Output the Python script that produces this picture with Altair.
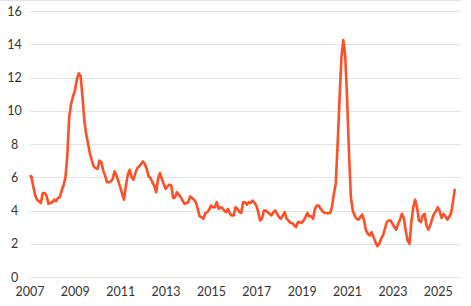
import altair as alt
import pandas as pd

# Monthly values (Jan 2007 - Oct 2025)
v2007 = [6.05, 6.05, 5.45, 4.9, 4.65, 4.55, 4.45, 5.05, 5.05, 4.9, 4.4, 4.45]
v2008 = [4.5, 4.65, 4.55, 4.75, 4.8, 5.2, 5.5, 6.0, 7.3, 9.6, 10.4, 10.85]
v2009 = [11.2, 11.85, 12.25, 12.1, 10.9, 9.4, 8.6, 8.0, 7.4, 7.0, 6.65, 6.55]
v2010 = [6.5, 7.0, 6.9, 6.4, 6.1, 5.7, 5.7, 5.75, 5.9, 6.35, 6.1, 5.75]
v2011 = [5.4, 5.0, 4.65, 5.5, 6.15, 6.45, 6.0, 5.85, 6.25, 6.55, 6.65, 6.8]
v2012 = [6.95, 6.8, 6.5, 6.05, 5.95, 5.7, 5.5, 5.1, 5.9, 6.25, 5.9, 5.6]
v2013 = [5.3, 5.45, 5.55, 5.5, 4.75, 4.8, 5.1, 4.95, 4.8, 4.6, 4.4, 4.45]
v2014 = [4.5, 4.85, 4.75, 4.65, 4.5, 4.1, 3.65, 3.6, 3.5, 3.85, 3.9, 4.05]
v2015 = [4.3, 4.2, 4.2, 4.5, 4.1, 4.2, 4.15, 4.0, 3.9, 4.1, 3.8, 3.7]
v2016 = [3.7, 4.2, 4.1, 3.9, 3.85, 4.5, 4.5, 4.35, 4.5, 4.45, 4.6, 4.45]
v2017 = [4.3, 3.9, 3.4, 3.5, 4.0, 4.0, 3.9, 3.8, 3.7, 3.9, 4.0, 3.8]
v2018 = [3.6, 3.5, 3.7, 3.9, 3.5, 3.4, 3.25, 3.25, 3.1, 3.0, 3.3, 3.3]
v2019 = [3.25, 3.4, 3.6, 3.85, 3.65, 3.65, 3.5, 4.1, 4.3, 4.3, 4.1, 3.95]
v2020 = [3.87, 3.85, 3.83, 3.85, 4.2, 5.0, 5.6, 8.0, 10.7, 13.2, 14.25, 13.3]
v2021 = [10.8, 7.5, 4.8, 4.0, 3.7, 3.5, 3.45, 3.6, 3.75, 3.4, 2.8, 2.6]
v2022 = [2.5, 2.7, 2.4, 2.1, 1.85, 2.0, 2.3, 2.5, 2.9, 3.3, 3.4, 3.4]
v2023 = [3.2, 3.0, 2.85, 3.2, 3.45, 3.8, 3.55, 2.8, 2.2, 2.0, 3.3, 4.2]
v2024 = [4.65, 4.2, 3.4, 3.3, 3.7, 3.8, 3.1, 2.85, 3.1, 3.5, 3.8, 3.95]
v2025 = [4.2, 3.95, 3.55, 3.8, 3.65, 3.45, 3.6, 3.85, 4.5, 5.3]

years = list(range(2007, 2026))
yearly = [v2007, v2008, v2009, v2010, v2011, v2012, v2013, v2014, v2015, v2016,
          v2017, v2018, v2019, v2020, v2021, v2022, v2023, v2024, v2025]

x_ticks = [2007, 2009, 2011, 2013, 2015, 2017, 2019, 2021, 2023, 2025]
y_ticks = [0, 2, 4, 6, 8, 10, 12, 14, 16]

rows = []
for yr, vals in zip(years, yearly):
    for m, v in enumerate(vals):
        rows.append({"t": yr + m / 12.0, "value": v})
df = pd.DataFrame(rows)

FONT = "Lato"
TXT = "#333333"

line = alt.Chart(df).mark_line(color="#FF4F26", strokeWidth=2.6, strokeJoin="round").encode(
    x=alt.X("t:Q",
            scale=alt.Scale(domain=[2007, 2026], nice=False, zero=False),
            axis=alt.Axis(values=x_ticks, format="d", grid=False, domain=False, ticks=False,
                          tickSize=0, labelPadding=8, labelFontSize=12.5, labelColor=TXT,
                          labelFont=FONT, labelFlush=False, title=None)),
    y=alt.Y("value:Q",
            scale=alt.Scale(domain=[0, 16], nice=False),
            axis=alt.Axis(values=y_ticks, grid=True, gridColor="#e2e2e2", gridWidth=1,
                          domain=False, ticks=False, tickSize=0, labelAlign="center",
                          labelBaseline="middle", labelPadding=15.5, labelFontSize=12.5,
                          labelColor=TXT, labelFont=FONT, title=None)),
)

top_rule = alt.Chart(df).mark_rule(color="#e2e2e2", strokeWidth=1).encode(
    x=alt.value(-29.5), x2=alt.value(431), y=alt.value(-10.5)
)

chart = alt.layer(top_rule, line).properties(
    width=431, height=266,
    autosize=alt.AutoSizeParams(type="none"),
    padding={"left": 29.5, "top": 11, "right": 10, "bottom": 29},
    background="white",
).configure_view(stroke=None)

chart.save("out.html", embed_options={"renderer": "svg", "actions": False})
